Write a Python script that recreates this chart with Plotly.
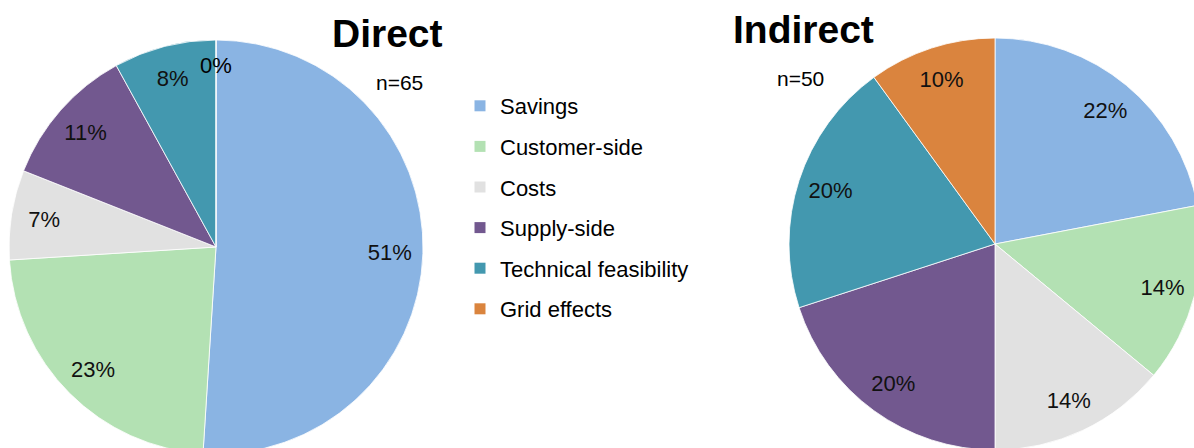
import plotly.graph_objects as go

categories = ["Savings", "Customer-side", "Costs", "Supply-side", "Technical feasibility", "Grid effects"]
direct_pct = [51, 23, 7, 11, 8, 0]
indirect_pct = [22, 14, 14, 20, 20, 10]
colors = ["#8AB4E3", "#B3E1B3", "#E1E1E1", "#72588F", "#4398AF", "#DA843E"]
titles = ["Direct", "Indirect"]
sample_sizes = [65, 50]

W, H = 1210, 470
FONT = "Liberation Sans, Arial, sans-serif"


def dom(cx, cy, r):
    return dict(x=[(cx - r) / W, (cx + r) / W], y=[1 - (cy + r) / H, 1 - (cy - r) / H])


fig = go.Figure()
for vals, d in [(direct_pct, dom(216, 247, 207)), (indirect_pct, dom(995, 244, 206))]:
    # coloured slices
    fig.add_trace(go.Pie(
        labels=categories, values=vals, sort=False, direction="clockwise", rotation=0,
        marker=dict(colors=colors, line=dict(color="white", width=0.8)),
        textinfo="none", domain=d, showlegend=False, hoverinfo="label+value",
    ))
    # transparent ring carrying the percentage labels near the rim
    fig.add_trace(go.Pie(
        labels=categories, values=vals, sort=False, direction="clockwise", rotation=0,
        hole=0.68,
        marker=dict(colors=["rgba(0,0,0,0)"] * len(categories), line=dict(width=0)),
        texttemplate="%{value}%", textposition="inside", insidetextorientation="horizontal",
        textfont=dict(family=FONT, size=22, color="#111111"),
        domain=d, showlegend=False, hoverinfo="skip",
    ))

for c, col in zip(categories, colors):
    fig.add_trace(go.Scatter(
        x=[None], y=[None], mode="markers", name=c, legendgroup=c,
        marker=dict(symbol="square", size=11, color=col), showlegend=True,
    ))

ann = [
    dict(text="<b>%s</b>" % titles[0], x=388 / W, y=1 - 33 / H, font=dict(size=39)),
    dict(text="<b>%s</b>" % titles[1], x=803 / W, y=1 - 29 / H, font=dict(size=39)),
    dict(text="n=%d" % sample_sizes[0], x=399 / W, y=1 - 83 / H, font=dict(size=21)),
    dict(text="n=%d" % sample_sizes[1], x=800 / W, y=1 - 78 / H, font=dict(size=21)),
    dict(text="%d%%" % direct_pct[5], x=216 / W, y=1 - 65 / H, font=dict(size=22)),
]
for a in ann:
    a.update(xref="paper", yref="paper", showarrow=False, xanchor="center", yanchor="middle")
    a["font"].update(family=FONT, color="#000000")

fig.update_layout(
    width=W, height=H, margin=dict(l=0, r=0, t=0, b=0),
    paper_bgcolor="white", plot_bgcolor="white",
    xaxis=dict(visible=False), yaxis=dict(visible=False),
    annotations=ann,
    legend=dict(x=460 / W, y=1 - 85 / H, xanchor="left", yanchor="top",
                traceorder="grouped", tracegroupgap=9,
                font=dict(family=FONT, size=22, color="#000000"),
                bgcolor="rgba(0,0,0,0)"),
)

post = (
    "var gd=document.getElementById('{plot_id}');"
    "document.body.style.margin='0';"
    "gd.parentElement.style.cssText='width:1194px;height:448px;overflow:hidden;';"
)
fig.write_html("out.html", post_script=post, config={"displayModeBar": False})
